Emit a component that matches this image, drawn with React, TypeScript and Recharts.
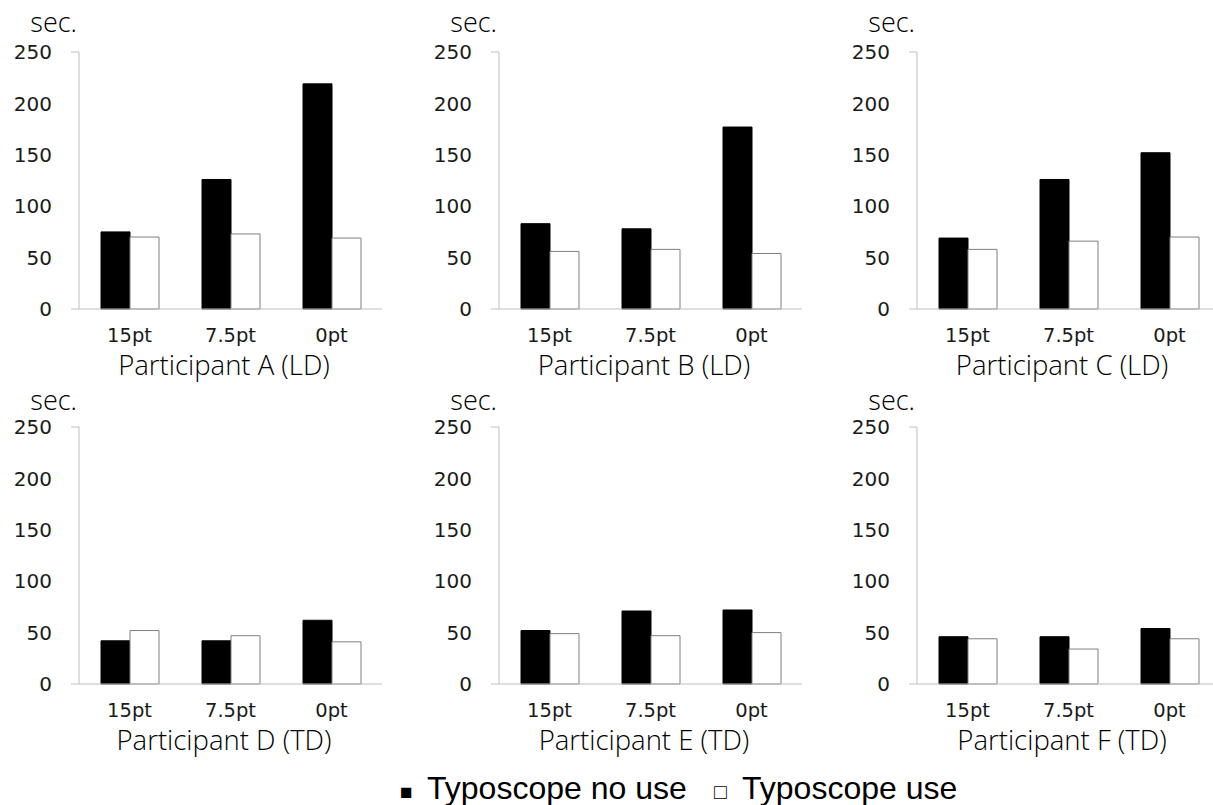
import React from 'react';
import { BarChart, Bar, XAxis, YAxis } from 'recharts';

const categories = ['15pt', '7.5pt', '0pt'];
const yTicks = [0, 50, 100, 150, 200, 250];
const panelTitles = [
  'Participant A (LD)',
  'Participant B (LD)',
  'Participant C (LD)',
  'Participant D (TD)',
  'Participant E (TD)',
  'Participant F (TD)',
];
const noUseA = [75, 126, 219];
const useA = [70, 73, 69];
const noUseB = [83, 78, 177];
const useB = [56, 58, 54];
const noUseC = [69, 126, 152];
const useC = [58, 66, 70];
const noUseD = [42, 42, 62];
const useD = [52, 47, 41];
const noUseE = [52, 71, 72];
const useE = [49, 47, 50];
const noUseF = [46, 46, 54];
const useF = [44, 34, 44];

const seriesNoUse = [noUseA, noUseB, noUseC, noUseD, noUseE, noUseF];
const seriesUse = [useA, useB, useC, useD, useE, useF];
const legendNoUse = 'Typoscope no use';
const legendUse = 'Typoscope use';
const unitLabel = 'sec.';

const AXIS = '#bfbfbf';
const TEXT = '#1a1a1a';
const PANEL_W = 420;
const PANEL_H = 380;
const panelLefts = [0, 420, 838];
const rowTops = [0, 375];
const Y_W = 79;
const TOP_M = 52;
const PLOT_H = 257;
const PLOT_W = 303;

const YTick = (props: any) => {
  const { x, y, payload } = props;
  const ax = x + 27;
  const v = payload.value;
  return (
    <g>
      <text x={x} y={y} dy="0.36em" textAnchor="end" fontFamily="DejaVu Sans" fontSize={20} fill={TEXT}>
        {v}
      </text>
      {(v === 0 || v === 250) && <line x1={ax - 8} x2={ax} y1={y} y2={y} stroke={AXIS} strokeWidth={1} />}
    </g>
  );
};

function Panel({ idx }: { idx: number }) {
  const data = categories.map((c, i) => ({
    cat: c,
    noUse: seriesNoUse[idx][i],
    use: seriesUse[idx][i],
  }));
  const col = idx % 3;
  const row = Math.floor(idx / 3);
  return (
    <div style={{ position: 'absolute', left: panelLefts[col], top: rowTops[row], width: PANEL_W, height: PANEL_H }}>
      <BarChart
        width={PANEL_W}
        height={PANEL_H}
        data={data}
        margin={{ top: TOP_M, right: PANEL_W - Y_W - PLOT_W, left: 0, bottom: PANEL_H - TOP_M - PLOT_H - 30 }}
        barGap={0}
        barSize={29}
      >
        <XAxis
          xAxisId="a_grid"
          type="number"
          domain={[0, 3]}
          ticks={[0, 1, 2, 3]}
          allowDataOverflow
          height={1}
          tick={false}
          tickSize={5}
          tickLine={{ stroke: AXIS }}
          axisLine={{ stroke: AXIS }}
        />
        <XAxis
          xAxisId="b_cat"
          dataKey="cat"
          height={29}
          axisLine={false}
          tickLine={false}
          tickSize={0}
          tickMargin={18}
          interval={0}
          tick={{ fontFamily: 'DejaVu Sans', fontSize: 19.5, fill: TEXT }}
        />
        <YAxis
          width={Y_W}
          domain={[0, 250]}
          ticks={yTicks}
          interval={0}
          axisLine={{ stroke: AXIS }}
          tickLine={false}
          tickSize={0}
          tickMargin={27}
          tick={<YTick />}
        />
        <Bar xAxisId="b_cat" dataKey="noUse" fill="#000000" stroke="#000000" strokeWidth={1} isAnimationActive={false} />
        <Bar xAxisId="b_cat" dataKey="use" fill="#ffffff" stroke="#7f7f7f" strokeWidth={1} isAnimationActive={false} />
      </BarChart>
    </div>
  );
}

export default function App() {
  return (
    <div style={{ position: 'absolute', left: 0, top: 0, width: 1213, height: 805, overflow: 'hidden', background: '#ffffff' }}>
      {[0, 1, 2, 3, 4, 5].map((i) => (
        <Panel key={i} idx={i} />
      ))}
      <svg width={1213} height={805} style={{ position: 'absolute', left: 0, top: 0, pointerEvents: 'none' }}>
        {[0, 1, 2, 3, 4, 5].map((i) => {
          const col = i % 3;
          const row = Math.floor(i / 3);
          const left = panelLefts[col];
          const top = rowTops[row];
          return (
            <g key={i}>
              <text x={left + Y_W - 2} y={top + (row === 0 ? 32 : 35)} textAnchor="end" fontFamily="Open Sans" fontWeight={300} fontSize={27} fill="#000000">
                {unitLabel}
              </text>
              <text x={left + 224} y={top + 375} textAnchor="middle" fontFamily="Open Sans" fontWeight={300} fontSize={27.5} fill="#000000">
                {panelTitles[i]}
              </text>
            </g>
          );
        })}
        <text y={799} fontFamily="Liberation Sans" fill="#000000">
          <tspan x={400} fontSize={21}>{'\u25A0'}</tspan>
          <tspan x={427} fontSize={32}>{legendNoUse}</tspan>
          <tspan x={714} fontSize={21}>{'\u25A1'}</tspan>
          <tspan x={742} fontSize={32}>{legendUse}</tspan>
        </text>
      </svg>
    </div>
  );
}
